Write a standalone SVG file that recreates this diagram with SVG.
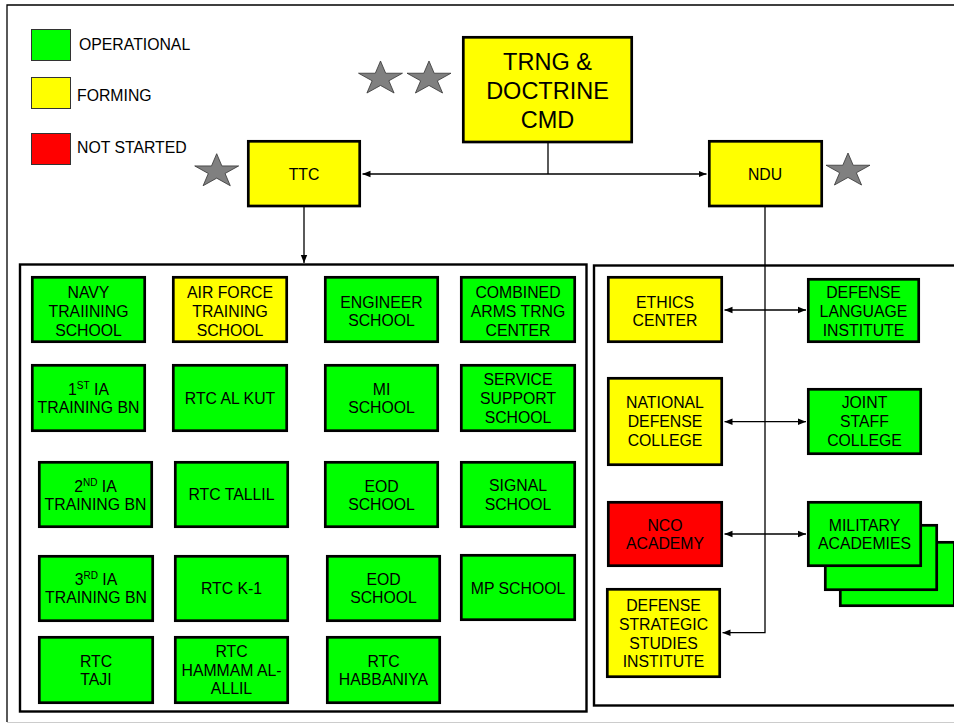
<svg xmlns="http://www.w3.org/2000/svg" width="954" height="724" viewBox="0 0 954 724">
<style>
text{font-family:"Liberation Sans",Arial,sans-serif;fill:#000;text-anchor:middle}
.t{font-size:15.8px}
.lg{font-size:15.8px;text-anchor:start}
.big{font-size:23.5px}
.b{stroke:#000;stroke-width:2.7}
.g{fill:#00ff00}
.y{fill:#ffff00}
.r{fill:#ff0000}
.leg{stroke:#333;stroke-width:1}
.panel{fill:none;stroke:#000;stroke-width:2.4}
.c{fill:none;stroke:#000;stroke-width:1.3}
.star{fill:#808080;stroke:#333;stroke-width:0.8}
</style>
<defs>
<marker id="ah" viewBox="0 0 10 10" refX="10" refY="5" markerWidth="8" markerHeight="8" markerUnits="userSpaceOnUse" orient="auto-start-reverse"><path d="M0,1 L10,5 L0,9 z" fill="#000"/></marker>
<polygon id="st" class="star" points="0,-17.7 5.19,-5.47 21.97,-5.47 8.39,2.09 13.58,14.32 0,6.76 -13.58,14.32 -8.39,2.09 -21.97,-5.47 -5.19,-5.47"/>
</defs>
<rect width="954" height="724" fill="#fff"/>
<path d="M7,722 V5 H954" fill="none" stroke="#000" stroke-width="1.3"/>
<path d="M7,722.5 H954" fill="none" stroke="#ccc" stroke-width="1"/>

<g id="legend">
<rect class="g leg" x="31.5" y="29.5" width="39" height="31"/>
<text class="lg" x="79" y="50">OPERATIONAL</text>
<rect class="y leg" x="31.5" y="77.5" width="39" height="31"/>
<text class="lg" x="77" y="100.5">FORMING</text>
<rect class="r leg" x="31.5" y="133.5" width="39" height="31"/>
<text class="lg" x="77" y="152.5">NOT STARTED</text>
</g>

<g id="stars">
<use href="#st" x="380.5" y="78.7"/>
<use href="#st" x="429" y="78.7"/>
<use href="#st" x="216.7" y="171.4"/>
<use href="#st" x="848" y="170.7"/>
</g>

<g id="panels">
<rect class="panel" x="20" y="264.5" width="566.5" height="447"/>
<rect class="panel" x="594" y="265.5" width="370" height="440"/>
</g>

<g id="connectors">
<path class="c" d="M548,143 V174"/>
<path class="c" d="M362.5,174 H706.5" marker-start="url(#ah)" marker-end="url(#ah)"/>
<path class="c" d="M304,207 V263" marker-end="url(#ah)"/>
<path class="c" d="M765,207 V632.7 H722.5" marker-end="url(#ah)"/>
<path class="c" d="M724.5,310 H806" marker-start="url(#ah)" marker-end="url(#ah)"/>
<path class="c" d="M724.5,421.7 H806" marker-start="url(#ah)" marker-end="url(#ah)"/>
<path class="c" d="M724.5,534 H806" marker-start="url(#ah)" marker-end="url(#ah)"/>
</g>

<g id="trng">
<rect class="y b" x="463.3" y="37.3" width="168.4" height="104.7"/>
<text class="big" x="547.5" y="70">TRNG &amp;</text>
<text class="big" x="547.5" y="99">DOCTRINE</text>
<text class="big" x="547.5" y="127.7">CMD</text>
</g>
<g id="ttc">
<rect class="y b" x="248.3" y="141.3" width="111.4" height="64.7"/>
<text class="t" x="304" y="180">TTC</text>
</g>
<g id="ndu">
<rect class="y b" x="709.3" y="141.3" width="112.4" height="64.7"/>
<text class="t" x="765" y="180">NDU</text>
</g>

<g id="navy">
<rect class="g b" x="32.3" y="277.3" width="112.4" height="64.4"/>
<text class="t" x="88.5" y="297.7">NAVY</text><text class="t" x="88.5" y="316.7">TRAIINING</text><text class="t" x="88.5" y="335.7">SCHOOL</text>
</g>
<g id="airforce">
<rect class="y b" x="173.3" y="277.3" width="113.4" height="64.4"/>
<text class="t" x="230" y="297.7">AIR FORCE</text><text class="t" x="230" y="316.7">TRAINING</text><text class="t" x="230" y="335.7">SCHOOL</text>
</g>
<g id="engineer">
<rect class="g b" x="325.3" y="277.3" width="112.4" height="64.4"/>
<text class="t" x="381.5" y="307.7">ENGINEER</text><text class="t" x="381.5" y="326">SCHOOL</text>
</g>
<g id="combined">
<rect class="g b" x="461.3" y="277.3" width="113.4" height="64.4"/>
<text class="t" x="518" y="297.7">COMBINED</text><text class="t" x="518" y="316.7">ARMS TRNG</text><text class="t" x="518" y="335.7">CENTER</text>
</g>

<g id="ia1">
<rect class="g b" x="32.3" y="365.3" width="112.4" height="65.4"/>
<text class="t" x="88.5" y="395">1<tspan font-size="10" dy="-6">ST</tspan><tspan dy="6"> IA</tspan></text><text class="t" x="88.5" y="413.3">TRAINING BN</text>
</g>
<g id="alkut">
<rect class="g b" x="173.3" y="365.3" width="113.4" height="65.4"/>
<text class="t" x="230" y="404">RTC AL KUT</text>
</g>
<g id="mi">
<rect class="g b" x="325.3" y="365.3" width="112.4" height="65.4"/>
<text class="t" x="381.5" y="395">MI</text><text class="t" x="381.5" y="413.3">SCHOOL</text>
</g>
<g id="service">
<rect class="g b" x="461.3" y="365.3" width="113.4" height="65.4"/>
<text class="t" x="518" y="385">SERVICE</text><text class="t" x="518" y="404">SUPPORT</text><text class="t" x="518" y="423">SCHOOL</text>
</g>

<g id="ia2">
<rect class="g b" x="39.3" y="462.3" width="112.4" height="64.4"/>
<text class="t" x="95.5" y="491.7">2<tspan font-size="10" dy="-6">ND</tspan><tspan dy="6"> IA</tspan></text><text class="t" x="95.5" y="510">TRAINING BN</text>
</g>
<g id="tallil">
<rect class="g b" x="175.3" y="462.3" width="112.4" height="64.4"/>
<text class="t" x="231.5" y="500">RTC TALLIL</text>
</g>
<g id="eod1">
<rect class="g b" x="325.3" y="462.3" width="112.4" height="64.4"/>
<text class="t" x="381.5" y="491.7">EOD</text><text class="t" x="381.5" y="510">SCHOOL</text>
</g>
<g id="signal">
<rect class="g b" x="461.3" y="462.3" width="113.4" height="64.4"/>
<text class="t" x="518" y="491">SIGNAL</text><text class="t" x="518" y="510">SCHOOL</text>
</g>

<g id="ia3">
<rect class="g b" x="39.3" y="556.3" width="113.4" height="64.4"/>
<text class="t" x="96" y="585">3<tspan font-size="10" dy="-6">RD</tspan><tspan dy="6"> IA</tspan></text><text class="t" x="96" y="603.3">TRAINING BN</text>
</g>
<g id="k1">
<rect class="g b" x="175.3" y="556.3" width="112.4" height="64.4"/>
<text class="t" x="231.5" y="594">RTC K-1</text>
</g>
<g id="eod2">
<rect class="g b" x="327.3" y="556.3" width="112.4" height="64.4"/>
<text class="t" x="383.5" y="585">EOD</text><text class="t" x="383.5" y="603.3">SCHOOL</text>
</g>
<g id="mp">
<rect class="g b" x="461.3" y="555.3" width="113.4" height="64.4"/>
<text class="t" x="518" y="594">MP SCHOOL</text>
</g>

<g id="taji">
<rect class="g b" x="39.3" y="637.3" width="113.4" height="65.4"/>
<text class="t" x="96" y="666.7">RTC</text><text class="t" x="96" y="685">TAJI</text>
</g>
<g id="hammam">
<rect class="g b" x="175.3" y="637.3" width="112.4" height="65.4"/>
<text class="t" x="231.5" y="656.7">RTC</text><text class="t" x="231.5" y="675.7">HAMMAM AL-</text><text class="t" x="231.5" y="694.3">ALLIL</text>
</g>
<g id="habbaniya">
<rect class="g b" x="327.3" y="637.3" width="112.4" height="65.4"/>
<text class="t" x="383.5" y="666.7">RTC</text><text class="t" x="383.5" y="685">HABBANIYA</text>
</g>

<g id="ethics">
<rect class="y b" x="608.3" y="277.3" width="113.4" height="64.4"/>
<text class="t" x="665" y="307.7">ETHICS</text><text class="t" x="665" y="326">CENTER</text>
</g>
<g id="dli">
<rect class="g b" x="808.3" y="279.3" width="110.4" height="62.4"/>
<text class="t" x="863.5" y="297.7">DEFENSE</text><text class="t" x="863.5" y="316.7">LANGUAGE</text><text class="t" x="863.5" y="335.7">INSTITUTE</text>
</g>
<g id="ndc">
<rect class="y b" x="608.3" y="378.3" width="113.4" height="86.4"/>
<text class="t" x="665" y="408.3">NATIONAL</text><text class="t" x="665" y="427.3">DEFENSE</text><text class="t" x="665" y="446">COLLEGE</text>
</g>
<g id="jsc">
<rect class="g b" x="808.3" y="389.3" width="112.4" height="64.4"/>
<text class="t" x="864.5" y="408.3">JOINT</text><text class="t" x="864.5" y="427.3">STAFF</text><text class="t" x="864.5" y="446">COLLEGE</text>
</g>
<g id="nco">
<rect class="r b" x="608.3" y="502.3" width="113.4" height="63.4"/>
<text class="t" x="665" y="530.7">NCO</text><text class="t" x="665" y="549.3">ACADEMY</text>
</g>
<g id="military">
<rect class="g b" x="840.3" y="542.3" width="114" height="63.4"/>
<rect class="g b" x="825.3" y="525.3" width="111.4" height="64.4"/>
<rect class="g b" x="808.3" y="502.3" width="112.4" height="63.4"/>
<text class="t" x="864.5" y="530.7">MILITARY</text><text class="t" x="864.5" y="549.3">ACADEMIES</text>
</g>
<g id="dssi">
<rect class="y b" x="607.3" y="589.3" width="112.4" height="87.4"/>
<text class="t" x="663.5" y="611">DEFENSE</text><text class="t" x="663.5" y="630">STRATEGIC</text><text class="t" x="663.5" y="649">STUDIES</text><text class="t" x="663.5" y="667.3">INSTITUTE</text>
</g>
</svg>
